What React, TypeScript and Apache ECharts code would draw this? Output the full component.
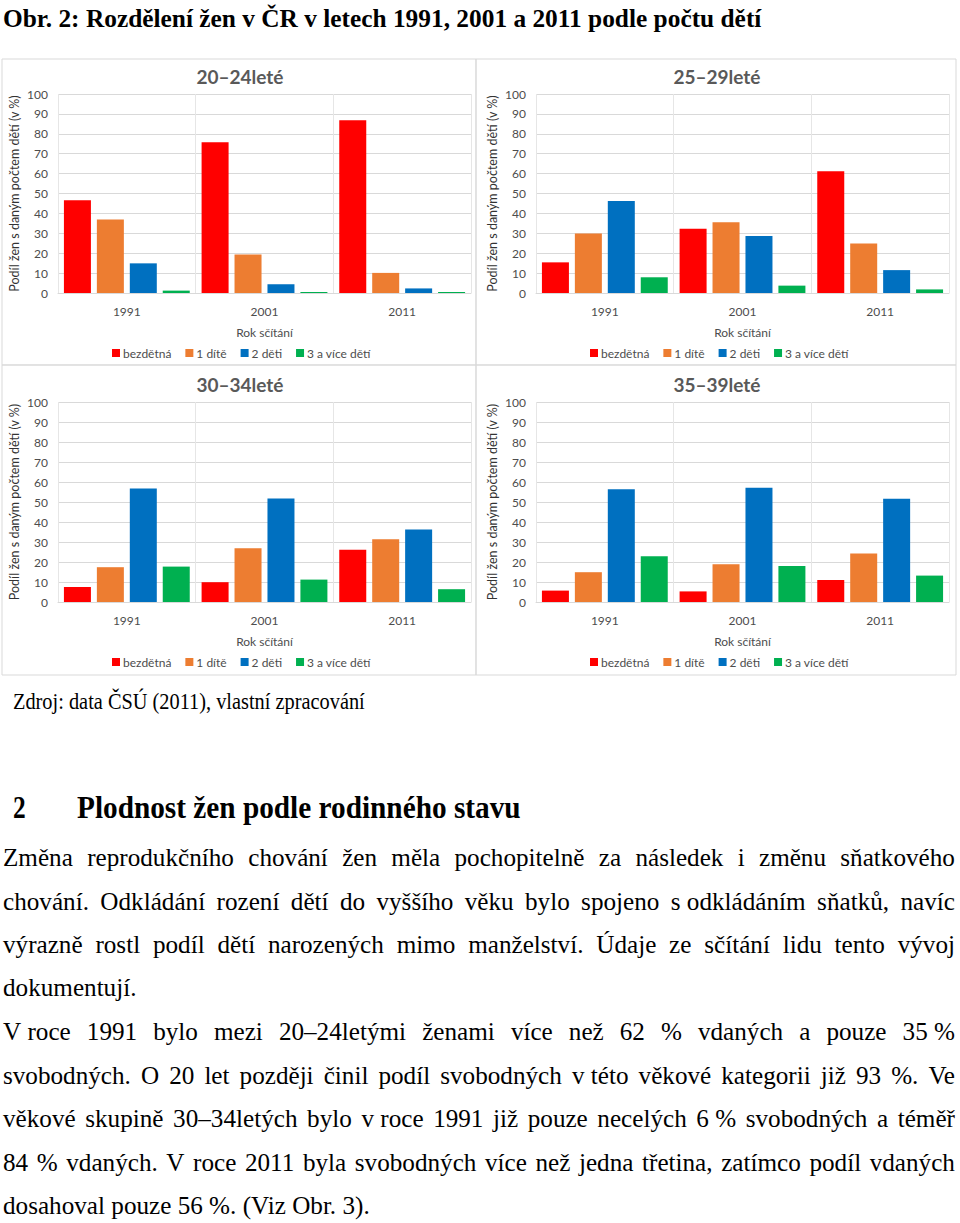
import React, { useEffect, useRef } from "react";
import * as echarts from "echarts";

const categories = ["1991", "2001", "2011"];
const seriesNames = ["bezdětná", "1 dítě", "2 děti", "3 a více dětí"];
const seriesColors = ["#FF0000", "#ED7D31", "#0070C0", "#00B050"];
const yTicks = [0, 10, 20, 30, 40, 50, 60, 70, 80, 90, 100];

// values per panel: rows = series (bezdětná, 1 dítě, 2 děti, 3 a více), cols = years
const women2024 = [
  [46.6, 75.7, 86.8],
  [36.9, 19.3, 10.1],
  [14.9, 4.4, 2.3],
  [1.2, 0.5, 0.5],
];
const women2529 = [
  [15.4, 32.3, 61.2],
  [29.9, 35.6, 24.9],
  [46.2, 28.6, 11.5],
  [7.9, 3.7, 1.8],
];
const women3034 = [
  [7.5, 9.9, 26.1],
  [17.4, 26.9, 31.4],
  [56.7, 51.8, 36.3],
  [17.7, 11.2, 6.4],
];
const women3539 = [
  [5.7, 5.3, 11.0],
  [14.9, 18.9, 24.2],
  [56.4, 57.1, 51.6],
  [22.9, 18.0, 13.2],
];
const panelTitles = ["20–24leté", "25–29leté", "30–34leté", "35–39leté"];
const panelData = [women2024, women2529, women3034, women3539];

const pageTitle = "Obr. 2: Rozdělení žen v ČR v letech 1991, 2001 a 2011 podle počtu dětí";
const sourceText = "Zdroj: data ČSÚ (2011), vlastní zpracování";
const headingNumber = "2";
const headingText = "Plodnost žen podle rodinného stavu";
const bodyLines = [
  "Změna reprodukčního chování žen měla pochopitelně za následek i změnu sňatkového",
  "chování. Odkládání rození dětí do vyššího věku bylo spojeno s\u00a0odkládáním sňatků, navíc",
  "výrazně rostl podíl dětí narozených mimo manželství. Údaje ze sčítání lidu tento vývoj",
  "dokumentují.",
  "V\u00a0roce 1991 bylo mezi 20–24letými ženami více než 62 % vdaných a pouze 35\u00a0%",
  "svobodných. O 20 let později činil podíl svobodných v\u00a0této věkové kategorii již 93 %. Ve",
  "věkové skupině 30–34letých bylo v\u00a0roce 1991 již pouze necelých 6\u00a0% svobodných a téměř",
  "84 % vdaných. V roce 2011 byla svobodných více než jedna třetina, zatímco podíl vdaných",
  "dosahoval pouze 56 %. (Viz Obr. 3).",
];
const bodyJustify = [true, true, true, false, true, true, true, true, false];

const SERIF = "'Liberation Serif', 'Times New Roman', serif";
const SANS = "Lato, Carlito, Calibri, sans-serif";

export default function App() {
  const ref = useRef<HTMLDivElement>(null);

  useEffect(() => {
    if (!ref.current) return;
    const chart = echarts.init(ref.current, null, { renderer: "svg" });

    const canvas = document.createElement("canvas");
    const ctx = canvas.getContext("2d") as CanvasRenderingContext2D;
    const fontOf = (size: number, weight: string) => `${weight} ${size}px ${SERIF}`;
    const measure = (t: string, size: number, weight: string) => {
      ctx.font = fontOf(size, weight);
      return ctx.measureText(t).width;
    };

    const graphics: any[] = [];
    const textEl = (t: string, x: number, y: number, size: number, weight: string, sx: number) => ({
      type: "text",
      x,
      y,
      scaleX: sx,
      silent: true,
      style: {
        text: t,
        font: fontOf(size, weight),
        fill: "#000",
        align: "left",
        verticalAlign: "middle",
      },
    });
    const fitText = (t: string, x0: number, x1: number, y: number, size: number, weight: string) => {
      const w = measure(t, size, weight);
      graphics.push(textEl(t, x0, y, size, weight, (x1 - x0) / w));
    };

    // panel borders
    const panels = [
      [2, 59, 474, 306],
      [476, 59, 480, 306],
      [2, 365, 474, 310],
      [476, 365, 480, 310],
    ];
    panels.forEach(([x, y, w, h]) =>
      graphics.push({
        type: "rect",
        silent: true,
        z: -1,
        shape: { x, y, width: w, height: h },
        style: { fill: "none", stroke: "#d9d9d9", lineWidth: 1 },
      })
    );

    fitText(pageTitle, 3, 762, 18, 26, "bold");
    fitText(sourceText, 13, 365, 702, 23, "normal");
    graphics.push(textEl(headingNumber, 13, 808, 31, "bold", 0.82));
    fitText(headingText, 77, 521, 808, 31, "bold");

    const bodySize = 26;
    const lastLine = bodyLines[bodyLines.length - 1];
    const bodySx = (370 - 3) / measure(lastLine, bodySize, "normal");
    const lineYs = [857, 901, 944, 987, 1031, 1075, 1118, 1162, 1205];
    bodyLines.forEach((line, i) => {
      const y = lineYs[i];
      if (!bodyJustify[i]) {
        graphics.push(textEl(line, 3, y, bodySize, "normal", bodySx));
        return;
      }
      const words = line.split(" ");
      const widths = words.map((w) => measure(w, bodySize, "normal") * bodySx);
      const total = widths.reduce((a, b) => a + b, 0);
      const gap = (955 - 3 - total) / (words.length - 1);
      let x = 3;
      words.forEach((w, k) => {
        graphics.push(textEl(w, x, y, bodySize, "normal", bodySx));
        x += widths[k] + gap;
      });
    });

    const gridPos = [
      { left: 58, top: 94, width: 413, height: 199 },
      { left: 536, top: 94, width: 413, height: 199 },
      { left: 58, top: 402, width: 413, height: 200 },
      { left: 536, top: 402, width: 413, height: 200 },
    ];
    const titleCenters = [
      [240, 67],
      [717, 67],
      [240, 375],
      [717, 375],
    ];
    const legendPos = [
      [112, 347],
      [590, 347],
      [112, 656],
      [590, 656],
    ];

    const series: any[] = [];
    panelData.forEach((rows, p) => {
      rows.forEach((vals, k) => {
        series.push({
          type: "bar",
          name: seriesNames[k],
          xAxisIndex: p,
          yAxisIndex: p,
          data: vals,
          barWidth: 27,
          barGap: "22%",
          itemStyle: { color: seriesColors[k] },
        });
      });
    });

    chart.setOption({
      animation: false,
      backgroundColor: "#ffffff",
      textStyle: { fontFamily: SANS },
      title: panelTitles.map((t, p) => ({
        text: t,
        left: titleCenters[p][0],
        top: titleCenters[p][1],
        textAlign: "center",
        padding: 0,
        textStyle: { fontFamily: SANS, fontSize: 19, fontWeight: "bold", color: "#595959" },
      })),
      legend: legendPos.map(([l, t]) => ({
        data: seriesNames,
        left: l,
        top: t,
        padding: 0,
        itemWidth: 8,
        itemHeight: 8,
        itemGap: 14,
        icon: "rect",
        textStyle: { fontFamily: SANS, fontSize: 12, color: "#4d4d4d", padding: [0, 0, 0, -2] },
      })),
      grid: gridPos.map((g) => ({ ...g, containLabel: false })),
      xAxis: gridPos.map((_, p) => ({
        type: "category",
        gridIndex: p,
        data: categories,
        name: "Rok sčítání",
        nameLocation: "middle",
        nameGap: 33,
        nameTextStyle: { fontFamily: SANS, fontSize: 12, color: "#4d4d4d" },
        axisLine: { show: true, lineStyle: { color: "#d9d9d9" } },
        axisTick: { show: false },
        axisLabel: { margin: 12, fontFamily: SANS, fontSize: 12, color: "#4d4d4d" },
        splitLine: { show: true, lineStyle: { color: "#e6e6e6" } },
      })),
      yAxis: gridPos.map((_, p) => ({
        type: "value",
        gridIndex: p,
        min: yTicks[0],
        max: yTicks[yTicks.length - 1],
        interval: 10,
        name: "Podíl žen s daným počtem dětí (v %)",
        nameLocation: "middle",
        nameRotate: 90,
        nameGap: 37,
        nameTextStyle: { fontFamily: SANS, fontSize: 12.5, color: "#333333" },
        axisLine: { show: false },
        axisTick: { show: false },
        axisLabel: { margin: 10, fontFamily: SANS, fontSize: 12, color: "#4d4d4d" },
        splitLine: { show: true, lineStyle: { color: "#d9d9d9" } },
      })),
      series,
      graphic: graphics,
    });

    return () => chart.dispose();
  }, []);

  return (
    <div
      ref={ref}
      style={{ position: "absolute", left: 0, top: 0, width: 960, height: 1223, background: "#fff" }}
    />
  );
}
